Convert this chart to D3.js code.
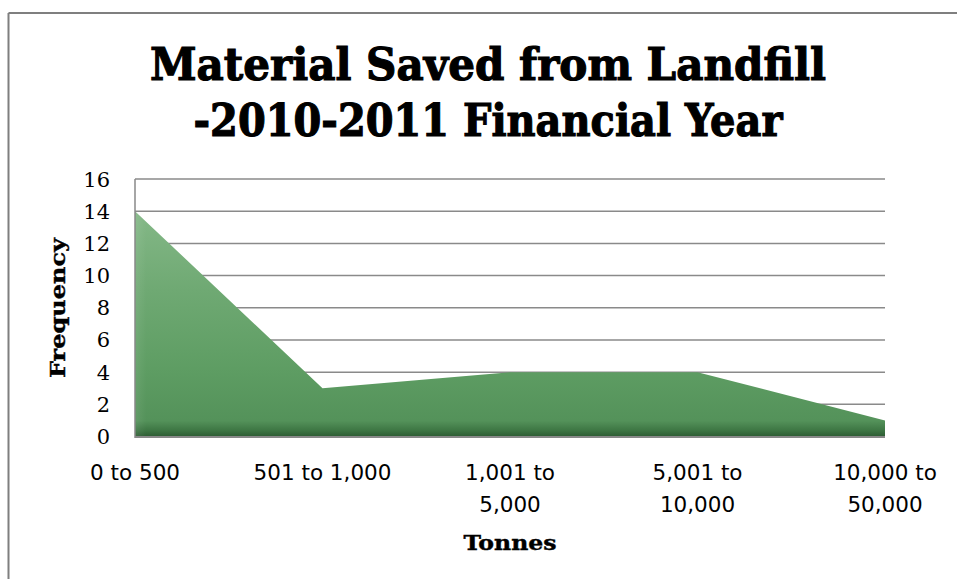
<!DOCTYPE html>
<html>
<head>
<meta charset="utf-8">
<script src="https://cdn.jsdelivr.net/npm/d3@7"></script>
<style>
  html, body { margin: 0; padding: 0; background: #fff; }
  svg { display: block; }
</style>
</head>
<body>
<svg id="chart" width="957" height="579"></svg>
<script>
// ---- data ----
const categories = ["0 to 500", "501 to 1,000", "1,001 to 5,000", "5,001 to 10,000", "10,000 to 50,000"];
const frequency = [14, 3, 4, 4, 1];
const yTicks = [0, 2, 4, 6, 8, 10, 12, 14, 16];
const titleLines = ["Material Saved from Landfill", "-2010-2011 Financial Year"];
const xAxisTitle = "Tonnes";
const yAxisTitle = "Frequency";

const svg = d3.select("#chart");
const W = 957, H = 579;
const plot = { left: 135, right: 885, top: 179, bottom: 436.5 };

// chart border (top & left visible)
svg.append("line").attr("x1", 8.5).attr("x2", W).attr("y1", 13).attr("y2", 13)
  .attr("stroke", "#7f7f7f").attr("stroke-width", 2);
svg.append("line").attr("x1", 8.5).attr("x2", 8.5).attr("y1", 13).attr("y2", H)
  .attr("stroke", "#7f7f7f").attr("stroke-width", 2);

const x = d3.scalePoint().domain(categories).range([plot.left, plot.right]);
const y = d3.scaleLinear().domain([0, 16]).range([plot.bottom, plot.top]);

// gridlines
svg.append("g").selectAll("line").data(yTicks.filter(t => t > 0)).join("line")
  .attr("x1", plot.left).attr("x2", plot.right)
  .attr("y1", d => y(d)).attr("y2", d => y(d))
  .attr("stroke", "#8a8a8a").attr("stroke-width", 1.5);

// gradient
const defs = svg.append("defs");
const grad = defs.append("linearGradient").attr("id", "areaGrad")
  .attr("gradientUnits", "userSpaceOnUse")
  .attr("x1", 0).attr("y1", y(14)).attr("x2", 0).attr("y2", plot.bottom);
[[0, "#84b887"], [0.35, "#6fa973"], [0.7, "#5e9d63"], [0.93, "#54925a"], [0.97, "#3f7845"], [1, "#2d5c33"]]
  .forEach(([o, c]) => grad.append("stop").attr("offset", o).attr("stop-color", c));

const gradH = defs.append("linearGradient").attr("id", "edgeGrad")
  .attr("x1", 0).attr("y1", 0).attr("x2", 1).attr("y2", 0);
[[0, "#ffffff", 0.08], [0.015, "#ffffff", 0.0], [1, "#ffffff", 0]]
  .forEach(([o, c, op]) => gradH.append("stop").attr("offset", o).attr("stop-color", c).attr("stop-opacity", op));

const data = categories.map((c, i) => ({ c, v: frequency[i] }));
const area = d3.area().x(d => x(d.c)).y0(y(0)).y1(d => y(d.v));

svg.append("path").datum(data).attr("d", area).attr("fill", "url(#areaGrad)");
svg.append("path").datum(data).attr("d", area).attr("fill", "url(#edgeGrad)");

// axis lines
svg.append("line").attr("x1", plot.left).attr("x2", plot.right)
  .attr("y1", y(0) + 0.5).attr("y2", y(0) + 0.5)
  .attr("stroke", "#888888").attr("stroke-width", 2);
svg.append("line").attr("x1", plot.left).attr("x2", plot.left)
  .attr("y1", plot.top).attr("y2", y(0) + 1.5)
  .attr("stroke", "#888888").attr("stroke-width", 1.5);

// y tick labels
svg.append("g").selectAll("text").data(yTicks).join("text")
  .attr("x", 110).attr("y", d => y(d)).attr("dy", "0.36em")
  .attr("text-anchor", "end")
  .attr("font-family", "DejaVu Serif").attr("font-size", 21).attr("fill", "#000")
  .text(d => d);

// x tick labels (wrapped)
const xl = svg.append("g").selectAll("text").data(categories).join("text")
  .attr("x", d => x(d)).attr("y", 480)
  .attr("text-anchor", "middle")
  .attr("font-family", "DejaVu Sans").attr("font-size", 21.5)
  .attr("fill", "#000");
xl.each(function(d) {
  const t = d3.select(this);
  const lines = d.length > 12 ? [d.slice(0, d.indexOf(" to ") + 3), d.slice(d.indexOf(" to ") + 4)] : [d];
  lines.forEach((ln, i) => t.append("tspan").attr("x", x(d)).attr("dy", i === 0 ? 0 : 31.5).text(ln));
});

// axis titles
svg.append("text").attr("x", (plot.left + plot.right) / 2).attr("y", 550)
  .attr("text-anchor", "middle").attr("font-family", "DejaVu Serif").attr("font-weight", "bold")
  .attr("font-size", 20).attr("textLength", 93).attr("lengthAdjust", "spacingAndGlyphs")
  .attr("stroke", "#000").attr("stroke-width", 0.4)
  .text(xAxisTitle);
svg.append("text").attr("transform", "translate(65,308) rotate(-90)")
  .attr("text-anchor", "middle").attr("font-family", "DejaVu Serif").attr("font-weight", "bold")
  .attr("font-size", 21).attr("textLength", 140).attr("lengthAdjust", "spacingAndGlyphs")
  .attr("stroke", "#000").attr("stroke-width", 0.4)
  .text(yAxisTitle);

// title
const titleW = [676, 589];
const titleY = [79.5, 136];
titleLines.forEach((ln, i) => {
  svg.append("text").attr("x", 488).attr("y", titleY[i])
    .attr("text-anchor", "middle").attr("font-family", "DejaVu Serif").attr("font-weight", "bold")
    .attr("font-size", 45).attr("textLength", titleW[i]).attr("lengthAdjust", "spacingAndGlyphs")
    .attr("stroke", "#000").attr("stroke-width", 1.2)
    .attr("fill", "#000").text(ln);
});
</script>
</body>
</html>
